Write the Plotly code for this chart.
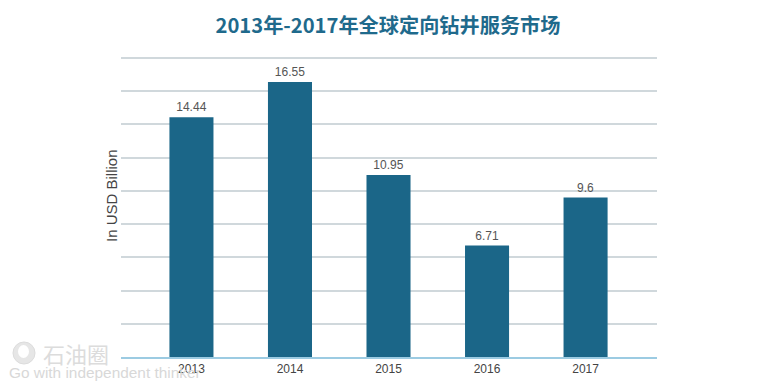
import plotly.graph_objects as go

years = ["2013", "2014", "2015", "2016", "2017"]
values = [14.44, 16.55, 10.95, 6.71, 9.6]
value_labels = ["14.44", "16.55", "10.95", "6.71", "9.6"]
grid_values = [2, 4, 6, 8, 10, 12, 14, 16, 18]
title_text = "2013年-2017年全球定向钻井服务市场"
y_title = "In USD Billion"
wm_cn = "石油圈"
wm_en = "Go with independent thinker"

W, H = 775, 388
L, R, T, B = 121, 657, 55, 357

fig = go.Figure(go.Bar(
    x=[0, 1, 2, 3, 4], y=values, width=0.447,
    marker=dict(color="#1b6688", line=dict(width=0)),
    text=value_labels, textposition="outside", cliponaxis=False,
    textfont=dict(family="Liberation Sans, Arial", size=12, color="#555555"),
    hoverinfo="skip",
))
fig.update_layout(
    width=W, height=H, autosize=False, showlegend=False,
    paper_bgcolor="white", plot_bgcolor="white",
    margin=dict(l=L, r=W-R, t=T, b=H-B, pad=0),
    title=dict(text="<b>%s</b>" % title_text, x=388/W, xanchor="center",
               y=1-26/H, yanchor="middle",
               font=dict(family="Noto Sans CJK SC", size=20.2, color="#1f6a8c")),
    xaxis=dict(tickmode="array", tickvals=[0, 1, 2, 3, 4], ticktext=years,
               range=[-0.715, 4.725], showgrid=False, zeroline=False, ticks="",
               showline=True, linecolor="#9ccbe2", linewidth=1.5, ticklen=0,
               tickfont=dict(family="Liberation Sans, Arial", size=12, color="#444444")),
    yaxis=dict(range=[0, 18.18], tickmode="array", tickvals=grid_values,
               showticklabels=False, ticks="",
               showgrid=True, gridcolor="#d0d8dc", gridwidth=1.5, zeroline=False),
    annotations=[
        dict(text=y_title, xref="paper", yref="paper", x=(111-L)/(R-L), y=(B-196)/(B-T),
             xanchor="center", yanchor="middle", textangle=-90, showarrow=False,
             font=dict(family="Liberation Sans, Arial", size=15, color="#444444")),
        dict(text=wm_cn, xref="paper", yref="paper", x=(41-L)/(R-L), y=(B-353)/(B-T),
             xanchor="left", yanchor="middle", showarrow=False,
             font=dict(family="Noto Sans CJK SC", size=22, color="#dcdcdc")),
        dict(text=wm_en, xref="paper", yref="paper", x=(7-L)/(R-L), y=(B-372)/(B-T),
             xanchor="left", yanchor="middle", showarrow=False,
             font=dict(family="Liberation Sans, Arial", size=15.4, color="#d8d8d8")),
    ],
    shapes=[
        dict(type="circle", xref="paper", yref="paper",
             x0=(13-L)/(R-L), x1=(35-L)/(R-L), y0=(B-364)/(B-T), y1=(B-342)/(B-T),
             fillcolor="#e6e6e6", line=dict(color="#dcdcdc", width=1), layer="below"),
        dict(type="circle", xref="paper", yref="paper",
             x0=(18-L)/(R-L), x1=(29-L)/(R-L), y0=(B-358)/(B-T), y1=(B-345)/(B-T),
             fillcolor="#ffffff", line=dict(width=0), layer="below"),
    ],
)
fig.write_html("out.html", config={"displayModeBar": False},
               post_script="document.body.style.margin='0';")
